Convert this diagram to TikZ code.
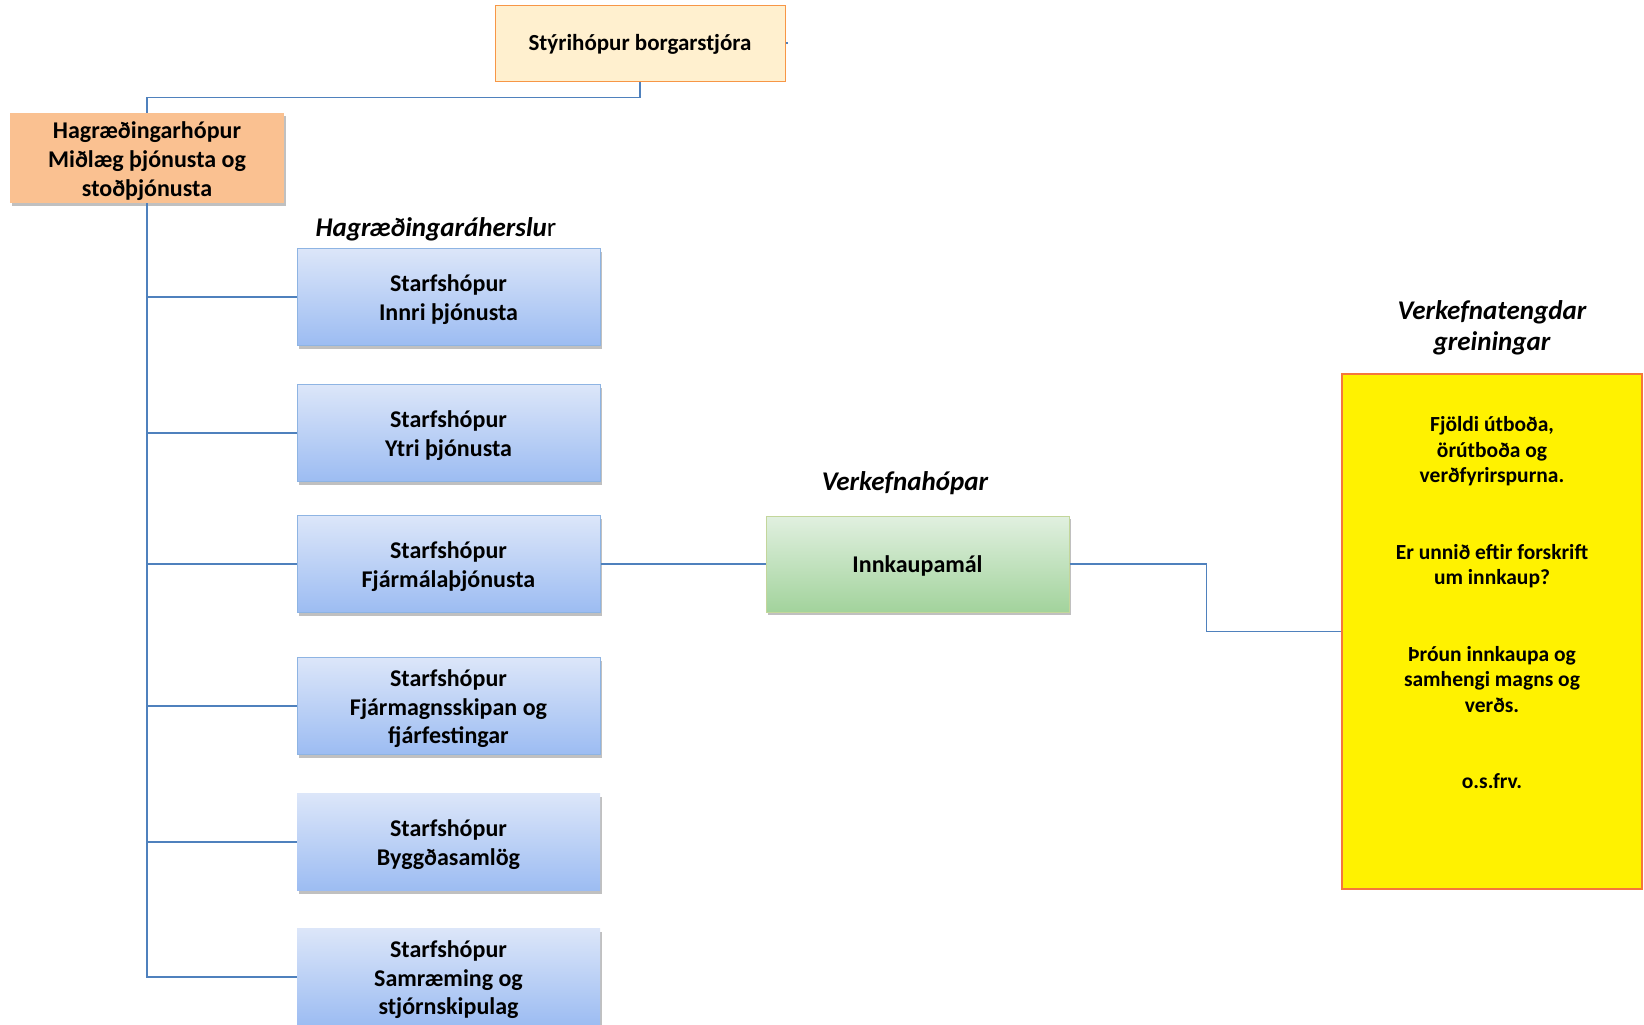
\documentclass[tikz,border=0pt]{standalone}
\usepackage{fontspec}
\setmainfont{Carlito}
\usetikzlibrary{shadows}
\definecolor{lineblue}{HTML}{4F81BD}
\definecolor{bluetop}{HTML}{DCE6F9}
\definecolor{bluebot}{HTML}{9CBCF2}
\definecolor{blueedge}{HTML}{8EB4E3}
\definecolor{greentop}{HTML}{E1F0E0}
\definecolor{greenbot}{HTML}{A2D39C}
\definecolor{greenedge}{HTML}{C3D69B}
\definecolor{peach}{HTML}{FAC191}
\definecolor{cream}{HTML}{FFF0CF}
\definecolor{orangeedge}{HTML}{F79646}
\definecolor{yellowedge}{HTML}{F5773C}
\newcommand{\tallstrut}{\rule{0pt}{22.5pt}}
\begin{document}
\begin{tikzpicture}[x=1pt,y=-1pt,
  conn/.style={draw=lineblue, line width=1.8pt},
  shad/.style={drop shadow={shadow xshift=1.5pt, shadow yshift=-3pt, fill=black!70, opacity=0.35}},
  bigfont/.style={font=\fontsize{24}{28.5}\selectfont\bfseries},
  bluebox/.style={shad, top color=bluetop, bottom color=bluebot, draw=blueedge, line width=1pt,
    minimum width=303pt, minimum height=97pt, inner sep=0pt, align=center, bigfont},
  label/.style={inner sep=0pt, align=center, font=\fontsize{27}{31.5}\selectfont\bfseries\itshape}
]
\clip (0,0) rectangle (1644,1025);
\fill[white] (0,0) rectangle (1644,1025);

% top boxes
\node[fill=cream, draw=orangeedge, line width=1pt, minimum width=290pt, minimum height=76pt,
  inner sep=0pt, font=\fontsize{23}{27}\selectfont\bfseries] (styr) at (640,44) {Stýrihópur borgarstjóra};
\node[shad, fill=peach, minimum width=274pt, minimum height=90pt, inner sep=0pt, align=center,
  font=\fontsize{24}{29}\selectfont\bfseries] (hag) at (147,158) {\rule{0pt}{24pt}Hagræðingarhópur\\Miðlæg þjónusta og\\stoðþjónusta};

% labels
\node[label] (l1) at (436,229.5) {Hagræðingaráherslu{\mdseries\upshape r}};
\node[label] (l2) at (905,483) {Verkefnahópar};
\node[label] (l3) at (1492,328) {Verkefnatengdar\\greiningar};

% blue boxes
\node[bluebox] (b1) at (448.5,297) {\tallstrut Starfshópur\\Innri þjónusta};
\node[bluebox] (b2) at (448.5,433) {\tallstrut Starfshópur\\Ytri þjónusta};
\node[bluebox] (b3) at (448.5,564) {\tallstrut Starfshópur\\Fjármálaþjónusta};
\node[bluebox] (b4) at (448.5,706) {\tallstrut Starfshópur\\Fjármagnsskipan og\\fjárfestingar};
\node[bluebox, draw=none] (b5) at (448.5,842) {\tallstrut Starfshópur\\Byggðasamlög};
\node[bluebox, draw=none] (b6) at (448.5,977) {\tallstrut Starfshópur\\Samræming og\\stjórnskipulag};

% green box
\node[shad, top color=greentop, bottom color=greenbot, draw=greenedge, line width=1pt,
  minimum width=303pt, minimum height=96pt, inner sep=0pt, bigfont] (ink) at (917.5,564) {\rule{0pt}{20pt}Innkaupamál};

% yellow box
\node[fill=yellow, draw=yellowedge, line width=1.5pt, minimum width=300pt, minimum height=515pt,
  inner sep=0pt] (yb) at (1492,631.5) {};
\node[inner sep=0pt, align=center, anchor=north, font=\fontsize{21.5}{25.5}\selectfont\bfseries] (ybt) at (1492,416.5)
  {Fjöldi útboða,\\örútboða og\\verðfyrirspurna.\\[51pt]Er unnið eftir forskrift\\um innkaup?\\[51pt]Þróun innkaupa og\\samhengi magns og\\verðs.\\[51pt]o.s.frv.};

% connectors
\coordinate (stub) at (788,43);
\draw[conn] (styr.south) -- (styr.south |- 0,97.5) -| (hag.north);
\draw[conn] (styr.east |- stub) -- (stub);
\foreach \i in {1,...,6} \draw[conn] (hag.south) |- (b\i.west);
\draw[conn] (b3.east) -- (ink.west);
\draw[conn] (ink.east) -- ++(137,0) |- (yb.west);
\end{tikzpicture}
\end{document}
